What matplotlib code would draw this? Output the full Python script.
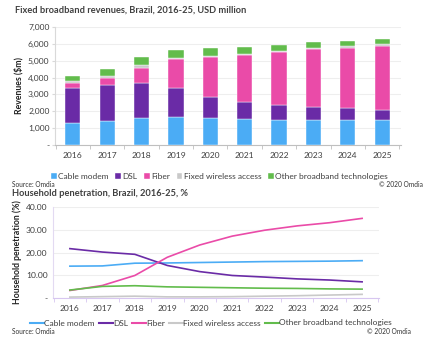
import matplotlib
matplotlib.use("Agg")
import matplotlib.pyplot as plt
from matplotlib.patches import Patch
from matplotlib.lines import Line2D
import numpy as np

years = ["2016", "2017", "2018", "2019", "2020", "2021", "2022", "2023", "2024", "2025"]
series_names = ["Cable modem", "DSL", "Fiber", "Fixed wireless access", "Other broadband technologies"]

# Revenues, USD million
rev_cable = [1305, 1425, 1620, 1660, 1580, 1540, 1500, 1500, 1500, 1460]
rev_dsl = [2095, 2115, 2060, 1740, 1270, 1010, 890, 770, 710, 640]
rev_fiber = [300, 460, 910, 1680, 2370, 2810, 3130, 3405, 3565, 3750]
rev_fwa = [80, 90, 140, 80, 60, 60, 80, 60, 75, 120]
rev_other = [310, 420, 490, 495, 455, 390, 350, 355, 320, 320]

# Household penetration, %
pen_cable = [14.0, 14.1, 15.3, 15.4, 15.6, 15.8, 16.0, 16.1, 16.2, 16.4]
pen_dsl = [21.7, 20.2, 19.2, 14.3, 11.6, 9.9, 9.2, 8.4, 7.9, 7.1]
pen_fiber = [3.3, 5.5, 9.9, 17.9, 23.3, 27.2, 29.8, 31.7, 33.1, 35.0]
pen_fwa = [0.4, 0.6, 0.8, 0.5, 0.5, 0.6, 0.8, 1.0, 1.3, 1.6]
pen_other = [3.5, 5.1, 5.4, 4.9, 4.7, 4.5, 4.3, 4.2, 4.0, 3.9]

colors = ["#4BACF5", "#6A2BA6", "#EA4BA8", "#C9C9C9", "#62BC4C"]
text_col = "#3F3F3F"
W, H = 431, 340

plt.rcParams["font.family"] = ["Lato", "DejaVu Sans"]
fig = plt.figure(figsize=(W / 100, H / 100), dpi=100)


def ax_rect(l, t, r, b):
    return [l / W, 1 - b / H, (r - l) / W, (b - t) / H]


x = np.arange(len(years))

# ---- Stacked revenue bars ----
ax1 = fig.add_axes(ax_rect(55, 27, 401, 145))
bottom = np.zeros(len(years))
for vals, c in zip([rev_cable, rev_dsl, rev_fiber, rev_fwa, rev_other], colors):
    ax1.bar(x, vals, bottom=bottom, width=0.44, color=c, edgecolor="white", linewidth=0.3, zorder=3)
    bottom += np.array(vals)
ax1.set_xlim(-0.52, 9.55)
ax1.set_ylim(0, 7000)
ax1.set_yticks(range(0, 7001, 1000))
ax1.set_yticklabels(["-"] + [f"{v:,}" for v in range(1000, 7001, 1000)])
ax1.set_xticks(x)
ax1.set_xticklabels(years)
ax1.set_xticks(np.arange(-0.5, 10, 1), minor=True)
ax1.grid(axis="y", color="#EEEEEE", linewidth=0.8, zorder=0)
for s in ["top", "right"]:
    ax1.spines[s].set_visible(False)
ax1.spines["left"].set_color("#D9D9D9")
ax1.spines["bottom"].set_color("#BFBFBF")
ax1.tick_params(axis="x", which="major", length=0, pad=5, labelsize=6.1, colors=text_col)
ax1.tick_params(axis="x", which="minor", length=3, color="#BFBFBF")
ax1.tick_params(axis="y", length=2, color="#D9D9D9", pad=2, labelsize=6.1, colors=text_col)
ax1.set_ylabel("Revenues ($m)", fontsize=6.3, fontweight="bold", color="#222222", labelpad=3)
fig.text(15 / W, 1 - 10 / H, "Fixed broadband revenues, Brazil, 2016-25, USD million",
         fontsize=6.7, fontweight="bold", color="#404040", va="center", ha="left")

bar_handles = [Patch(facecolor=c, edgecolor="white", label=n) for c, n in zip(colors, series_names)]
fig.legend(handles=bar_handles, loc="center", bbox_to_anchor=(219 / W, 1 - 176 / H), ncol=5,
           frameon=False, fontsize=6.0, handlelength=0.8, handleheight=0.8, handletextpad=0.15,
           columnspacing=0.7, labelcolor=text_col, borderpad=0, borderaxespad=0)
fig.text(12 / W, 1 - 185 / H, "Source: Omdia", fontsize=4.8, color="#333333", va="center")
fig.text(423 / W, 1 - 185 / H, "© 2020 Omdia", fontsize=4.8, color="#333333", va="center", ha="right")

# ---- Penetration lines ----
ax2 = fig.add_axes(ax_rect(53, 207, 379, 298))
for vals, c in zip([pen_cable, pen_dsl, pen_fiber, pen_fwa, pen_other], colors):
    ax2.plot(x, vals, color=c, linewidth=1.2, zorder=3)
ax2.set_xlim(-0.52, 9.52)
ax2.set_ylim(0, 40)
ax2.set_yticks(range(0, 41, 10))
ax2.set_yticklabels(["-"] + [f"{v:.2f}" for v in range(10, 41, 10)])
ax2.set_xticks(x)
ax2.set_xticklabels(years)
ax2.set_xticks(np.arange(-0.5, 10, 1), minor=True)
ax2.grid(axis="y", color="#EEEEEE", linewidth=0.8, zorder=0)
for s in ["top", "right"]:
    ax2.spines[s].set_visible(False)
ax2.spines["left"].set_color("#E3DAF2")
ax2.spines["bottom"].set_color("#D7C6F0")
ax2.tick_params(axis="x", which="major", length=0, pad=5, labelsize=6.1, colors=text_col)
ax2.tick_params(axis="x", which="minor", length=3, color="#D7C6F0")
ax2.tick_params(axis="y", length=0, pad=4, labelsize=6.1, colors=text_col)
ax2.set_ylabel("Household penetration (%)", fontsize=6.3, fontweight="bold", color="#222222", labelpad=3)
fig.text(12 / W, 1 - 194 / H, "Household penetration, Brazil, 2016-25, %",
         fontsize=6.7, fontweight="bold", color="#404040", va="center", ha="left")

line_handles = [Line2D([0], [0], color=c, linewidth=1.5, label=n) for c, n in zip(colors, series_names)]
fig.legend(handles=line_handles, loc="center", bbox_to_anchor=(211 / W, 1 - 323 / H), ncol=5,
           frameon=False, fontsize=6.0, handlelength=1.7, handletextpad=0.0,
           columnspacing=0.5, labelcolor=text_col, borderpad=0, borderaxespad=0)
fig.text(12 / W, 1 - 332 / H, "Source: Omdia", fontsize=4.8, color="#333333", va="center")
fig.text(411 / W, 1 - 332 / H, "© 2020 Omdia", fontsize=4.8, color="#333333", va="center", ha="right")

fig.savefig("out.png", dpi=100, facecolor="white")
